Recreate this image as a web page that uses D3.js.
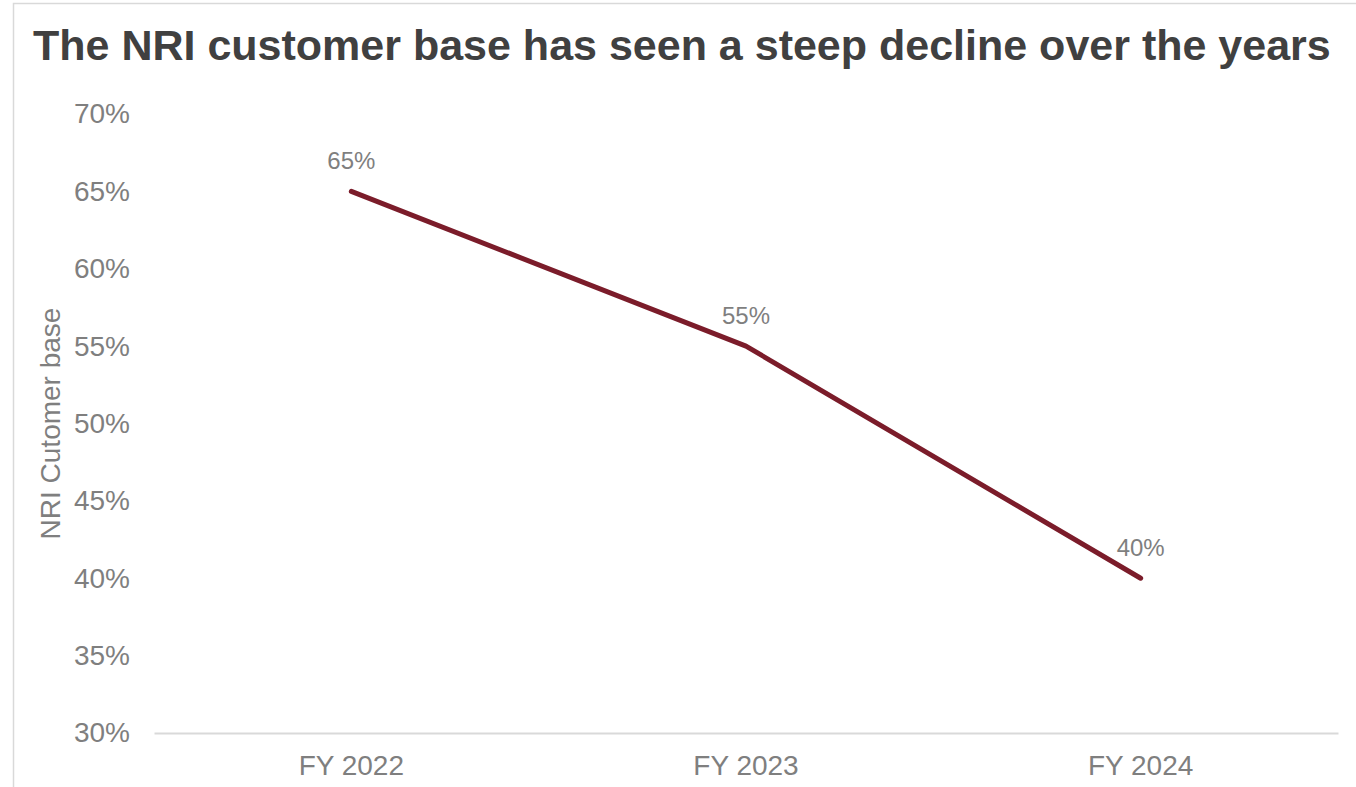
<!DOCTYPE html>
<html>
<head>
<meta charset="utf-8">
<script src="https://cdn.jsdelivr.net/npm/d3@7"></script>
<style>
  html, body { margin: 0; padding: 0; background: #fff; }
  svg { display: block; font-family: "Liberation Sans", Arial, sans-serif; }
</style>
</head>
<body>
<div id="chart"></div>
<script>
const years = ['FY 2022', 'FY 2023', 'FY 2024']
const nriShare = [0.65, 0.55, 0.40]
const yTicks = [0.30, 0.35, 0.40, 0.45, 0.50, 0.55, 0.60, 0.65, 0.70]

const W = 1356, H = 787
const MARGIN = { top: 114, right: 18, bottom: 54, left: 154 }
const iw = W - MARGIN.left - MARGIN.right
const ih = H - MARGIN.top - MARGIN.bottom
const FONT = '"Liberation Sans", Arial, sans-serif'

const svg = d3.select('#chart').append('svg')
  .attr('width', W)
  .attr('height', H)

// outer chart frame (cropped at right / bottom)
svg.append('rect')
  .attr('x', 13.5).attr('y', 3.5)
  .attr('width', W + 20).attr('height', H + 20)
  .attr('fill', '#fff')
  .attr('stroke', '#d9d9d9')
  .attr('stroke-width', 1.5)

svg.append('text')
  .attr('x', 33).attr('y', 60)
  .attr('font-size', 43)
  .attr('font-weight', 'bold')
  .attr('fill', '#404040')
  .text('The NRI customer base has seen a steep decline over the years')

const g = svg.append('g').attr('transform', `translate(${MARGIN.left},${MARGIN.top})`)

const x = d3.scaleBand().domain(years).range([0, iw])
const y = d3.scaleLinear().domain([0.30, 0.70]).range([ih, 0])

// y axis
const yAxis = g.append('g')
  .call(d3.axisLeft(y).tickValues(yTicks).tickFormat(d3.format('.0%')).tickSize(0).tickPadding(24))
yAxis.select('.domain').remove()
yAxis.selectAll('text')
  .attr('font-size', 28)
  .attr('fill', '#7f7f7f')
  .attr('font-family', FONT)

// x axis
const xAxis = g.append('g')
  .attr('transform', `translate(0,${ih})`)
  .call(d3.axisBottom(x).tickSize(0).tickPadding(22))
xAxis.select('.domain').attr('stroke', '#d9d9d9').attr('stroke-width', 2)
xAxis.selectAll('text')
  .attr('font-size', 28)
  .attr('fill', '#7f7f7f')
  .attr('font-family', FONT)

// axis title
g.append('text')
  .attr('transform', `translate(${50 - MARGIN.left},${ih / 2}) rotate(-90)`)
  .attr('text-anchor', 'middle')
  .attr('dominant-baseline', 'central')
  .attr('font-size', 28)
  .attr('fill', '#7f7f7f')
  .text('NRI Cutomer base')

const cx = d => x(d) + x.bandwidth() / 2

// line
const line = d3.line()
  .x((d, i) => cx(years[i]))
  .y(d => y(d))

g.append('path')
  .datum(nriShare)
  .attr('d', line)
  .attr('fill', 'none')
  .attr('stroke', '#7b1c2a')
  .attr('stroke-width', 5)
  .attr('stroke-linecap', 'round')
  .attr('stroke-linejoin', 'round')

// data labels
g.selectAll('text.label')
  .data(nriShare)
  .enter().append('text')
  .attr('class', 'label')
  .attr('x', (d, i) => cx(years[i]))
  .attr('y', d => y(d) - 22)
  .attr('text-anchor', 'middle')
  .attr('font-size', 24)
  .attr('fill', '#7f7f7f')
  .text(d3.format('.0%'))
</script>
</body>
</html>
